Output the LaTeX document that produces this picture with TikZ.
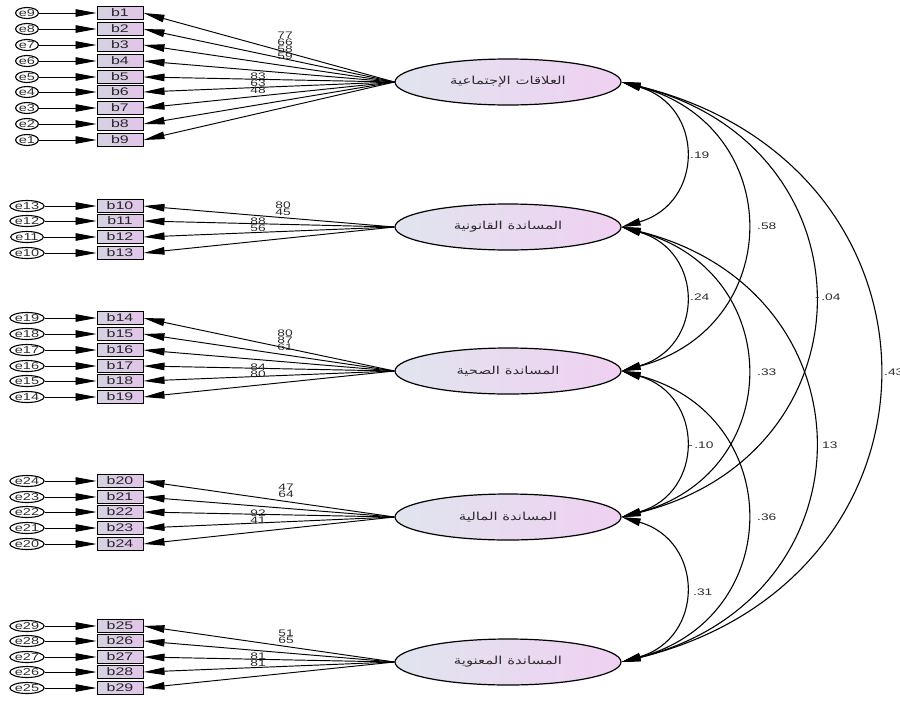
\documentclass[tikz,border=0pt]{standalone}
\usepackage{fontspec}
\setmainfont{Liberation Sans}
\newfontfamily\numfont{Liberation Sans}[FakeStretch=1.45]
\newfontfamily\arabicfont[Script=Arabic,FakeStretch=1.35]{DejaVu Sans}
\TeXXeTstate=1
\usetikzlibrary{arrows.meta,shapes.geometric}
\definecolor{elL}{RGB}{224,229,238}
\definecolor{elR}{RGB}{240,208,242}
\definecolor{bxL}{RGB}{214,210,226}
\definecolor{bxR}{RGB}{226,196,232}
\definecolor{txt}{RGB}{45,45,45}
\tikzset{
  latent/.style={ellipse, draw, line width=1.2pt, minimum width=226pt, minimum height=46pt,
    left color=elL, right color=elR, inner sep=0pt, text=txt,
    font=\arabicfont\fontsize{11}{12}\selectfont},
  obs/.style={rectangle, draw, line width=1pt, minimum width=46pt, minimum height=13pt,
    inner sep=0pt, left color=bxL, right color=bxR, text=black!85, font=\numfont\fontsize{11}{11}\selectfont},
  errc/.style={ellipse, draw, line width=1.1pt, minimum width=20pt, minimum height=11pt,
    inner sep=0pt, text=txt, font=\numfont\fontsize{10}{10}\selectfont},
  ldarrow/.style={-{Triangle[length=21pt,width=7.5pt]}, line width=0.95pt},
  corarrow/.style={{Triangle[length=19pt,width=7.5pt]}-{Triangle[length=19pt,width=7.5pt]}, line width=1.1pt},
  lbl/.style={font=\numfont\fontsize{9.5}{9.5}\selectfont, text=txt, inner sep=0pt},
}
\begin{document}
\begin{tikzpicture}[x=1pt,y=-1pt]
\useasboundingbox (0,0) rectangle (900,702);

% latent variables
\node[latent] (F1) at (508,82)  {\beginR العلاقات الإجتماعية\endR};
\node[latent] (F2) at (508,227) {\beginR المساندة القانونية\endR};
\node[latent] (F3) at (508,371) {\beginR المساندة الصحية\endR};
\node[latent] (F4) at (508,517) {\beginR المساندة المالية\endR};
\node[latent] (F5) at (508,662) {\beginR المساندة المعنوية\endR};

% indicators and errors
\foreach \n/\y/\e/\f in {
  1/13/9/1, 2/29/8/1, 3/45/7/1, 4/61/6/1, 5/77/5/1, 6/92/4/1, 7/108/3/1, 8/124/2/1, 9/140/1/1,
  10/206/13/2, 11/221/12/2, 12/237/11/2, 13/253/10/2,
  14/318/19/3, 15/334/18/3, 16/350/17/3, 17/366/16/3, 18/381/15/3, 19/397/14/3,
  20/481/24/4, 21/497/23/4, 22/512/22/4, 23/528/21/4, 24/544/20/4,
  25/626/29/5, 26/641/28/5, 27/657/27/5, 28/672/26/5, 29/688/25/5}{
  \node[obs] (b\n) at (120,\y) {b\n};
  \node[errc] (u\n) at (27,\y) {e\e};
  \draw[ldarrow] (u\n) -- (b\n);
  \draw[ldarrow] (F\f.west) -- (b\n.east);
}

% loading labels
\node[lbl] (l1) at (285,35) {77};
\node[lbl] (l2) at (285,42) {66};
\node[lbl] (l3) at (285,49) {58};
\node[lbl] (l4) at (285,56) {59};
\node[lbl] (l5) at (258,76) {83};
\node[lbl] (l6) at (258,83) {63};
\node[lbl] (l7) at (258,90) {48};

\node[lbl] (l10) at (283,205) {80};
\node[lbl] (l11) at (283,212) {45};
\node[lbl] (l12) at (258,221) {88};
\node[lbl] (l13) at (258,228) {56};

\node[lbl] (l14) at (285,333) {80};
\node[lbl] (l15) at (285,340) {87};
\node[lbl] (l16) at (285,347) {61};
\node[lbl] (l17) at (258,367) {84};
\node[lbl] (l18) at (258,374) {80};

\node[lbl] (l20) at (286,487) {47};
\node[lbl] (l21) at (286,494) {64};
\node[lbl] (l22) at (258,513) {92};
\node[lbl] (l23) at (258,520) {41};

\node[lbl] (l25) at (286,633) {51};
\node[lbl] (l26) at (286,640) {65};
\node[lbl] (l27) at (258,656) {81};
\node[lbl] (l28) at (258,663) {81};

% correlations
\draw[corarrow] (F1.east) .. controls +(83,24) and +(83,-24) .. (F2.east);
\draw[corarrow] (F2.east) .. controls +(83,24) and +(83,-24) .. (F3.east);
\draw[corarrow] (F3.east) .. controls +(83,24) and +(83,-24) .. (F4.east);
\draw[corarrow] (F4.east) .. controls +(83,24) and +(83,-24) .. (F5.east);
\draw[corarrow] (F1.east) .. controls +(165,44) and +(165,-44) .. (F3.east);
\draw[corarrow] (F2.east) .. controls +(165,44) and +(165,-44) .. (F4.east);
\draw[corarrow] (F3.east) .. controls +(165,44) and +(165,-44) .. (F5.east);
\draw[corarrow] (F1.east) .. controls +(255,64) and +(255,-64) .. (F4.east);
\draw[corarrow] (F2.east) .. controls +(255,64) and +(255,-64) .. (F5.east);
\draw[corarrow] (F1.east) .. controls +(341,84) and +(341,-84) .. (F5.east);

\node[lbl, anchor=west] (c12) at (690,155) {.19};
\node[lbl, anchor=west] (c23) at (690,297) {.24};
\node[lbl, anchor=west] (c34) at (688,445) {-\,.10};
\node[lbl, anchor=west] (c45) at (693,592) {.31};
\node[lbl, anchor=west] (c13) at (757,226) {.58};
\node[lbl, anchor=west] (c24) at (757,372) {.33};
\node[lbl, anchor=west] (c35) at (757,517) {.36};
\node[lbl, anchor=west] (c14) at (815,297) {-\,.04};
\node[lbl, anchor=west] (c25) at (822,445) {13};
\node[lbl, anchor=west] (c15) at (884,372) {.43};
\end{tikzpicture}
\end{document}
